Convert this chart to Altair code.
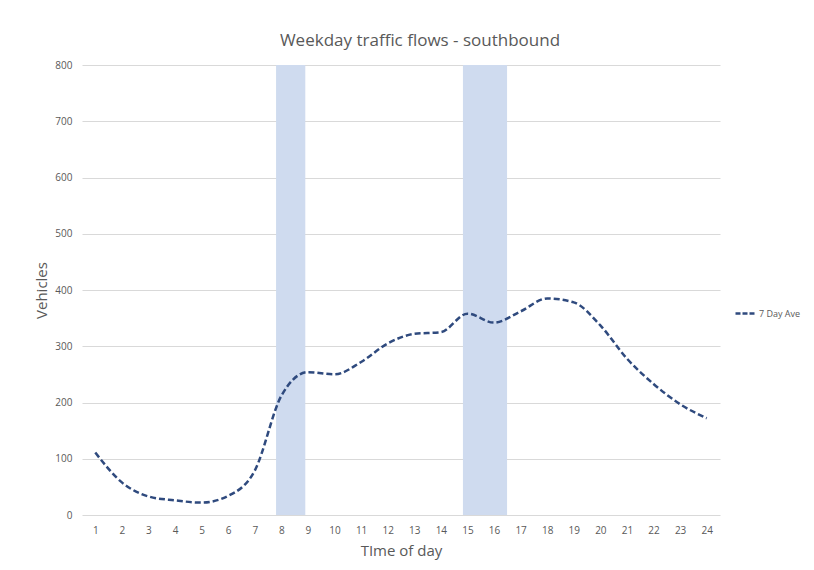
import altair as alt
import pandas as pd

hours = list(range(1, 25))
vehicles = [111, 58, 33, 26, 22, 34, 79, 212, 254, 250, 272, 305, 322, 325,
            358, 342, 362, 385, 378, 337, 278, 233, 197, 172]
series_name = "7 Day Ave"

band_start = [7.8, 14.83]
band_end = [8.9, 16.49]
band_top = [800, 800]

line_df = pd.DataFrame({"hour": hours, "vehicles": vehicles, "series": series_name})
band_df = pd.DataFrame({"x1": band_start, "x2": band_end, "top": band_top, "bottom": [0, 0]})

x_scale = alt.Scale(domain=[0.5, 24.5], nice=False, zero=False)
y_scale = alt.Scale(domain=[0, 800], nice=False)

x_axis = alt.Axis(values=hours, title="TIme of day", grid=False, domain=False,
                  ticks=False, labelPadding=10, labelFontSize=10, labelOverlap=False,
                  labelColor="#595959", titleFontSize=15, titleColor="#595959",
                  titleFontWeight="normal", titlePadding=8, labelFont="Open Sans",
                  titleFont="Open Sans", format="d")

bands = alt.Chart(band_df).mark_rect(color="#CFDBEF").encode(
    x=alt.X("x1:Q", scale=x_scale, axis=x_axis),
    x2="x2:Q",
    y=alt.Y("bottom:Q", scale=y_scale),
    y2="top:Q",
)

line = alt.Chart(line_df).mark_line(
    strokeDash=[6, 3], strokeWidth=2.5, interpolate="monotone"
).encode(
    x=alt.X("hour:Q", scale=x_scale, axis=x_axis),
    y=alt.Y("vehicles:Q", scale=y_scale,
            axis=alt.Axis(values=[0, 100, 200, 300, 400, 500, 600, 700, 800],
                          title="Vehicles", grid=True, gridColor="#D9D9D9",
                          domain=False, ticks=False, labelPadding=10, labelFontSize=10,
                          labelColor="#595959", titleFontSize=15, titleColor="#595959",
                          titleFontWeight="normal", titlePadding=5, labelFont="Open Sans",
                          titleFont="Open Sans")),
    color=alt.Color("series:N", scale=alt.Scale(domain=[series_name], range=["#2F4A7E"]),
                    legend=alt.Legend(title=None, orient="none", legendX=652, legendY=237,
                                      symbolType="stroke", symbolDash=[5, 2],
                                      symbolStrokeWidth=2.5, symbolSize=400,
                                      labelFontSize=9, labelColor="#595959",
                                      labelFont="Open Sans", labelOffset=2)),
)

chart = alt.layer(bands, line).properties(
    width=638,
    height=450,
    background="white",
    title=alt.TitleParams("Weekday traffic flows - southbound", fontSize=17,
                          font="Open Sans", fontWeight="normal", color="#595959",
                          anchor="middle", dx=19, offset=10),
    autosize=alt.AutoSizeParams(type="none"),
    padding={"left": 74, "top": 57, "right": 86, "bottom": 46},
).configure_view(stroke=None)

chart.save("out.html", embed_options={"renderer": "svg", "actions": False})
